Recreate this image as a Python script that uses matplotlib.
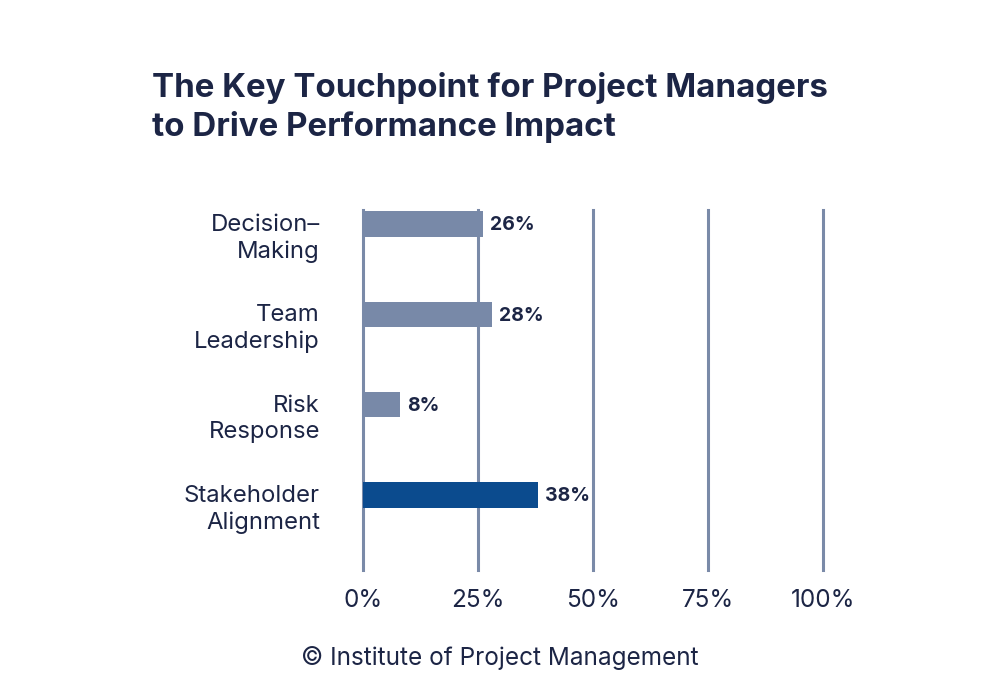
import matplotlib
matplotlib.use('Agg')
import matplotlib.pyplot as plt

# data
categories = ['Decision\u2013\nMaking', 'Team\nLeadership', 'Risk\nResponse', 'Stakeholder\nAlignment']
values = [26, 28, 8, 38]
ticks = [0, 25, 50, 75, 100]
tick_labels = ['0%', '25%', '50%', '75%', '100%']
highlight = 'Stakeholder\nAlignment'

navy = '#1c2545'
grid_c = '#7a8aa8'
bar_c = '#7889a8'
hi_c = '#0b4b8e'

plt.rcParams['font.family'] = ['Inter', 'DejaVu Sans']

fig = plt.figure(figsize=(10, 7), dpi=100)
ax = fig.add_axes([0.363, 1 - 570 / 700, 0.46, 360 / 700])
ax.set_xlim(0, 100)
ax.set_ylim(3.83, -0.155)
for s in ax.spines.values():
    s.set_visible(False)

for t in ticks:
    ax.axvline(t, color=grid_c, lw=2.2, zorder=1, clip_on=False)

ys = list(range(len(categories)))
colors = [hi_c if c == highlight else bar_c for c in categories]
ax.barh(ys, values, height=0.28, color=colors, zorder=2)

for y, v in zip(ys, values):
    ax.annotate(f'{v}%', (v, y), xytext=(5, -1), textcoords='offset points',
                va='center', ha='left', fontsize=14, fontweight='bold', color=navy)

for y, c in zip(ys, categories):
    ax.annotate(c, (0, y), xytext=(-31, -10.5), textcoords='offset points',
                va='center', ha='right', fontsize=17.2, color=navy,
                linespacing=1.25, annotation_clip=False)

ax.set_yticks([])
ax.set_xticks(ticks)
ax.set_xticklabels(tick_labels, fontsize=17.5, color=navy)
ax.tick_params(axis='x', length=0, pad=14)

fig.text(0.152, 1 - 107.5 / 700, 'The Key Touchpoint for Project Managers\nto Drive Performance Impact',
         ha='left', va='center', fontsize=23.8, fontweight='bold', color=navy, linespacing=1.3)
fig.text(0.5, 1 - 658 / 700, '\u00a9 Institute of Project Management', ha='center', va='center',
         fontsize=17.5, color=navy)

fig.savefig('out.png', dpi=100, facecolor='white')
